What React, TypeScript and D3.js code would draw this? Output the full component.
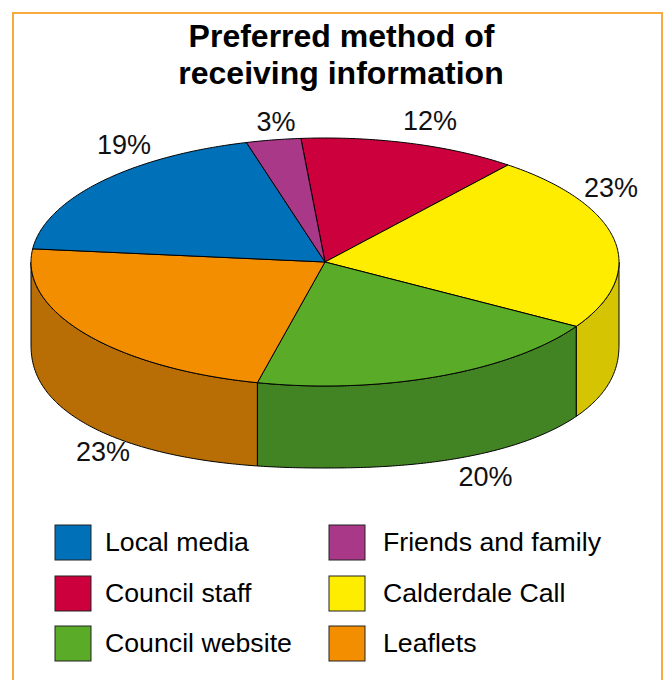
import React from "react";
import * as d3 from "d3";

const categories = ["Council staff", "Calderdale Call", "Council website", "Leaflets", "Local media", "Friends and family"];
const shares = [12, 23, 20, 23, 19, 3];
const topColours = ["#cc003d", "#ffed00", "#5aac28", "#f28e00", "#0070b8", "#a93889"];
const wallColours = ["#8f002b", "#d4c402", "#428323", "#b86e04", "#004f82", "#762760"];
const legendRows = [
  ["Local media", "Friends and family"],
  ["Council staff", "Calderdale Call"],
  ["Council website", "Leaflets"],
];

const WIDTH = 665;
const HEIGHT = 680;
const FONT = "'Liberation Sans', Arial, sans-serif";

// Ellipse of the pie's top face and the drop of its rim.
const cx = 325;
const cy = 262;
const rx = 294;
const ry = 124;
const drop = 82;
const squareness = 2.25;
const startAngle = (-4.7 * Math.PI) / 180;

const slices = d3
  .pie<number>()
  .sort(null)
  .startAngle(startAngle)
  .endAngle(startAngle + 2 * Math.PI)(shares);

const rimX = (a: number) => cx + rx * Math.sin(a);
const rimY = (a: number) => cy - ry * Math.cos(a);
// The lower rim is slightly squarer than the top ellipse.
const lowerY = (x: number) => {
  const u = Math.min(1, Math.abs(x - cx) / rx);
  return cy + drop + ry * Math.pow(1 - Math.pow(u, squareness), 1 / squareness);
};

const sampleAngles = (a0: number, a1: number) => {
  const n = Math.max(2, Math.ceil(Math.abs(a1 - a0) * 90));
  return d3.range(n + 1).map((i) => a0 + ((a1 - a0) * i) / n);
};

const line = d3.line<[number, number]>();

const topPath = (a0: number, a1: number) =>
  line([[cx, cy], ...sampleAngles(a0, a1).map((a) => [rimX(a), rimY(a)] as [number, number])]) + "Z";

const wallPath = (a0: number, a1: number) => {
  const angles = sampleAngles(a0, a1);
  const upper = angles.map((a) => [rimX(a), rimY(a)] as [number, number]);
  const lower = [...angles].reverse().map((a) => [rimX(a), lowerY(rimX(a))] as [number, number]);
  return line([...upper, ...lower]) + "Z";
};

// Only the front half of the rim is visible: keep the part between 90 and 270 degrees.
const frontSpan = (a0: number, a1: number): [number, number] | null => {
  const lo = Math.max(a0, Math.PI / 2);
  const hi = Math.min(a1, (3 * Math.PI) / 2);
  return hi > lo ? [lo, hi] : null;
};

const valueLabels = [
  { text: `${shares[4]}%`, x: 124, y: 154 },
  { text: `${shares[5]}%`, x: 276, y: 131 },
  { text: `${shares[0]}%`, x: 430, y: 130 },
  { text: `${shares[1]}%`, x: 611, y: 197 },
  { text: `${shares[2]}%`, x: 485.5, y: 486 },
  { text: `${shares[3]}%`, x: 103, y: 461 },
];

const rowY = d3.scaleOrdinal<number, number>().domain([0, 1, 2]).range([525, 576, 626]);
const colX = d3.scaleOrdinal<number, number>().domain([0, 1]).range([55, 329]);
const colText = d3.scaleOrdinal<number, number>().domain([0, 1]).range([105, 383]);
const colourOf = d3.scaleOrdinal<string, string>().domain(categories).range(topColours);

export default function App() {
  return (
    <svg
      width={WIDTH}
      height={HEIGHT}
      viewBox={`0 0 ${WIDTH} ${HEIGHT}`}
      style={{ position: "fixed", left: 0, top: 0, background: "#fff" }}
      fontFamily={FONT}
    >
      <path d={`M13 ${HEIGHT}V13H662V${HEIGHT}`} fill="none" stroke="#f7ab3e" strokeWidth={2} />

      <g textAnchor="middle" fontWeight="bold" fontSize={32} fill="#000">
        <text x={341.5} y={47}>Preferred method of</text>
        <text x={341} y={84}>receiving information</text>
      </g>

      <g stroke="#000" strokeWidth={1} strokeLinejoin="round">
        {slices.map((s, i) => {
          const span = frontSpan(s.startAngle, s.endAngle);
          return span ? <path key={i} d={wallPath(span[0], span[1])} fill={wallColours[i]} /> : null;
        })}
        {slices.map((s, i) => (
          <path key={i} d={topPath(s.startAngle, s.endAngle)} fill={topColours[i]} />
        ))}
      </g>

      <g textAnchor="middle" fontSize={27} fill="#111">
        {valueLabels.map((l, i) => (
          <text key={i} x={l.x} y={l.y}>{l.text}</text>
        ))}
      </g>

      {legendRows.map((row, r) =>
        row.map((name, c) => (
          <g key={name}>
            <rect x={colX(c)} y={rowY(r)} width={36} height={35} fill={colourOf(name)} stroke="#222" strokeWidth={1} />
            <text x={colText(c)} y={rowY(r) + 26} fontSize={26.7} fill="#000">{name}</text>
          </g>
        ))
      )}
    </svg>
  );
}
